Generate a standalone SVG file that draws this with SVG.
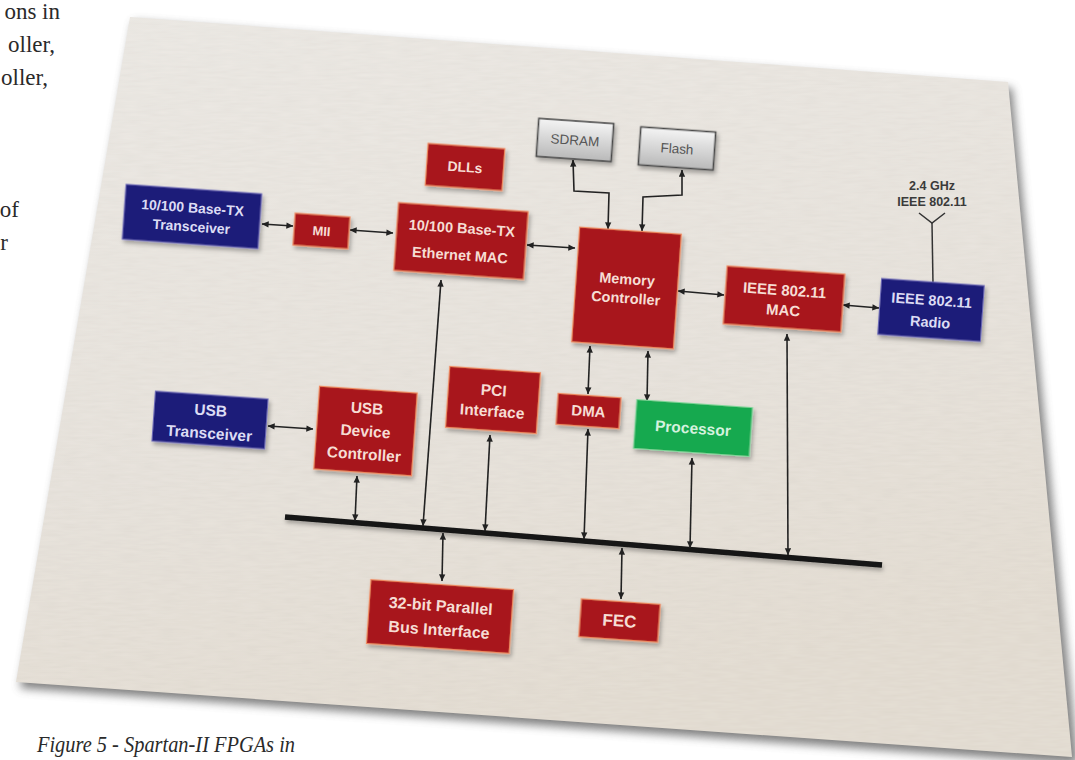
<svg xmlns="http://www.w3.org/2000/svg" width="1075" height="760" viewBox="0 0 1075 760">
<defs>
<linearGradient id="paperG" x1="0" y1="0" x2="0.3" y2="1">
<stop offset="0" stop-color="#edeae5"/>
<stop offset="0.6" stop-color="#e8e3dc"/>
<stop offset="1" stop-color="#e4ddd2"/>
</linearGradient>
<linearGradient id="grayG" x1="0" y1="0" x2="0" y2="1">
<stop offset="0" stop-color="#f4f4f4"/>
<stop offset="1" stop-color="#b9b9b9"/>
</linearGradient>
<filter id="paperShadow" x="-10%" y="-10%" width="120%" height="120%">
<feGaussianBlur stdDeviation="5"/>
</filter>
<filter id="tex" x="0" y="0" width="100%" height="100%">
<feTurbulence type="fractalNoise" baseFrequency="0.05 0.35" numOctaves="2" seed="4" result="n"/>
<feColorMatrix in="n" type="matrix" values="0.5 0 0 0 0.40  0.5 0 0 0 0.38  0.5 0 0 0 0.35  0 0 0 0 0.10" result="m"/>
<feComposite in="m" in2="SourceGraphic" operator="in"/>
</filter>
<filter id="ds" x="-20%" y="-20%" width="150%" height="150%">
<feDropShadow dx="2" dy="3" stdDeviation="2" flood-color="#000" flood-opacity="0.3"/>
</filter>
<filter id="busS" x="-5%" y="-100%" width="110%" height="400%">
<feDropShadow dx="1" dy="3" stdDeviation="2" flood-color="#000" flood-opacity="0.3"/>
</filter>
<marker id="ah" viewBox="0 0 10 10" refX="9.5" refY="5" markerWidth="8" markerHeight="7" markerUnits="userSpaceOnUse" orient="auto-start-reverse">
<path d="M0,0.5 L10,5 L0,9.5 z" fill="#222"/>
</marker>
<style>
.body{font-family:"Liberation Serif","Times New Roman",serif;font-size:23px;fill:#2a2a2a}
.cap{font-family:"Liberation Serif","Times New Roman",serif;font-style:italic;font-size:23px;fill:#2a2a2a}
.red{fill:#a8161c;stroke:#ef8a62;stroke-width:1.2;filter:url(#ds)}
.navy{fill:#1f1b79;stroke:#6d6bb8;stroke-width:1;filter:url(#ds)}
.green{fill:#19a950;stroke:#7fd69a;stroke-width:1;filter:url(#ds)}
.gray{fill:url(#grayG);stroke:#4a4a4a;stroke-width:1.6;filter:url(#ds)}
.lbl{font-family:"Liberation Sans",Arial,sans-serif;font-weight:bold;text-anchor:middle;fill:#f6ddd4}
.lbln{font-family:"Liberation Sans",Arial,sans-serif;font-weight:bold;text-anchor:middle;fill:#dcdcf4}
.lblg{font-family:"Liberation Sans",Arial,sans-serif;font-weight:bold;text-anchor:middle;fill:#d4f2de}
.lblm{font-family:"Liberation Sans",Arial,sans-serif;text-anchor:middle;fill:#555}
.ant{font-family:"Liberation Sans",Arial,sans-serif;font-weight:bold;text-anchor:middle;fill:#3a3a3a;font-size:12.5px}
.c{stroke:#222;stroke-width:1.6;fill:none;marker-start:url(#ah);marker-end:url(#ah)}
</style>
</defs>
<rect width="1075" height="760" fill="#ffffff"/>
<!-- surrounding page text -->
<text class="body" x="60" y="19" text-anchor="end">ons in</text>
<text class="body" x="55" y="52" text-anchor="end">oller,</text>
<text class="body" x="48" y="85" text-anchor="end">oller,</text>
<text class="body" x="19" y="217" text-anchor="end">of</text>
<text class="body" x="8" y="250" text-anchor="end">r</text>
<text class="cap" x="37" y="752" textLength="258" lengthAdjust="spacingAndGlyphs">Figure 5 - Spartan-II FPGAs in</text>
<!-- paper -->
<polygon points="134,22 1012,88 1078,764 20,688" fill="#555" opacity="0.75" filter="url(#paperShadow)"/>
<polygon points="130,17 1008,82 1072,757 16,682" fill="url(#paperG)"/>
<polygon points="130,17 1008,82 1072,757 16,682" fill="#fff" filter="url(#tex)"/>
<!-- connectors -->
<g id="connectors">
<line x1="285" y1="517" x2="882" y2="565" stroke="#141414" stroke-width="5.5" filter="url(#busS)"/>
<line class="c" x1="262" y1="224" x2="293" y2="226"/>
<line class="c" x1="350" y1="230" x2="393" y2="233"/>
<line class="c" x1="527" y1="245" x2="575" y2="248"/>
<line class="c" x1="678" y1="291" x2="724" y2="295"/>
<line class="c" x1="843" y1="305" x2="879" y2="308"/>
<line class="c" x1="268" y1="426" x2="313" y2="429"/>
<polyline class="c" points="573,160 574,191 609,193 608,229"/>
<polyline class="c" points="682,170 682,195 643,197 642,231"/>
<line class="c" x1="590" y1="346" x2="588" y2="394"/>
<line class="c" x1="648" y1="351" x2="647" y2="401"/>
<line class="c" x1="357" y1="476" x2="355" y2="521"/>
<line class="c" x1="441" y1="280" x2="423" y2="526"/>
<line class="c" x1="490" y1="435" x2="485" y2="531"/>
<line class="c" x1="588" y1="429" x2="584" y2="539"/>
<line class="c" x1="692" y1="458" x2="690" y2="548"/>
<line class="c" x1="787" y1="334" x2="788" y2="555"/>
<line class="c" x1="443" y1="533" x2="442" y2="581"/>
<line class="c" x1="622" y1="548" x2="621" y2="599"/>
</g>
<!-- antenna -->
<g id="antenna">
<text class="ant" x="932" y="190">2.4 GHz</text>
<text class="ant" x="932" y="206">IEEE 802.11</text>
<polyline points="919,213 932,223 945,213" fill="none" stroke="#333" stroke-width="1.5"/>
<line x1="932" y1="223" x2="933" y2="284" stroke="#333" stroke-width="1.5"/>
</g>
<!-- nodes -->
<g id="n-eth-transceiver" transform="rotate(4 192 216.5)">
<rect class="navy" x="124" y="189" width="136" height="55"/>
<text class="lbln" x="192" y="212.5" font-size="14">10/100 Base-TX</text>
<text class="lbln" x="192" y="231.5" font-size="14">Transceiver</text>
</g>
<g id="n-mii" transform="rotate(4 321.5 231)">
<rect class="red" x="294" y="215" width="55" height="32"/>
<text class="lbl" x="321.5" y="235.7" font-size="13">MII</text>
</g>
<g id="n-eth-mac" transform="rotate(4 461 241)">
<rect class="red" x="396" y="207" width="130" height="68"/>
<text class="lbl" x="461" y="233.2" font-size="14.5">10/100 Base-TX</text>
<text class="lbl" x="461" y="260.2" font-size="14.5">Ethernet MAC</text>
</g>
<g id="n-dlls" transform="rotate(4 465 167)">
<rect class="red" x="426.5" y="146" width="77" height="42"/>
<text class="lbl" x="465" y="172" font-size="14">DLLs</text>
</g>
<g id="n-sdram" transform="rotate(4 575 140)">
<rect class="gray" x="537.5" y="121" width="75" height="38"/>
<text class="lblm" x="575" y="144.9" font-size="13.5">SDRAM</text>
</g>
<g id="n-flash" transform="rotate(4 677 148.5)">
<rect class="gray" x="639.5" y="129.5" width="75" height="38"/>
<text class="lblm" x="677" y="153.4" font-size="13.5">Flash</text>
</g>
<g id="n-memctrl" transform="rotate(4 626.5 288)">
<rect class="red" x="575.5" y="230.5" width="102" height="115"/>
<text class="lbl" x="626.5" y="284.2" font-size="14.5">Memory</text>
<text class="lbl" x="626.5" y="303.2" font-size="14.5">Controller</text>
</g>
<g id="n-ieee-mac" transform="rotate(4 784 299)">
<rect class="red" x="725" y="270" width="118" height="58"/>
<text class="lbl" x="784" y="295.4" font-size="15">IEEE 802.11</text>
<text class="lbl" x="784" y="315.4" font-size="15">MAC</text>
</g>
<g id="n-radio" transform="rotate(4 931 310)">
<rect class="navy" x="879.5" y="282" width="103" height="56"/>
<text class="lbln" x="931" y="305.2" font-size="14.5">IEEE 802.11</text>
<text class="lbln" x="931" y="327.2" font-size="14.5">Radio</text>
</g>
<g id="n-usb-transceiver" transform="rotate(4 210 420)">
<rect class="navy" x="153.5" y="395" width="113" height="50"/>
<text class="lbln" x="210" y="415.6" font-size="15.5">USB</text>
<text class="lbln" x="210" y="438.6" font-size="15.5">Transceiver</text>
</g>
<g id="n-usb-dc" transform="rotate(4 365.5 431)">
<rect class="red" x="316.5" y="389.5" width="98" height="83"/>
<text class="lbl" x="365.5" y="413.6" font-size="15.5">USB</text>
<text class="lbl" x="365.5" y="436.6" font-size="15.5">Device</text>
<text class="lbl" x="365.5" y="459.6" font-size="15.5">Controller</text>
</g>
<g id="n-pci" transform="rotate(4 493 400)">
<rect class="red" x="447.5" y="369.5" width="91" height="61"/>
<text class="lbl" x="493" y="395.6" font-size="15.5">PCI</text>
<text class="lbl" x="493" y="416.6" font-size="15.5">Interface</text>
</g>
<g id="n-dma" transform="rotate(4 588.5 411)">
<rect class="red" x="557" y="395.5" width="63" height="31"/>
<text class="lbl" x="588.5" y="416.4" font-size="15">DMA</text>
</g>
<g id="n-processor" transform="rotate(4 693 428)">
<rect class="green" x="635" y="403.5" width="116" height="49"/>
<text class="lblg" x="693" y="433.6" font-size="15.5">Processor</text>
</g>
<g id="n-bus32" transform="rotate(4 440 616.5)">
<rect class="red" x="368.5" y="584.5" width="143" height="64"/>
<text class="lbl" x="440" y="611.3" font-size="16">32-bit Parallel</text>
<text class="lbl" x="440" y="635.3" font-size="16">Bus Interface</text>
</g>
<g id="n-fec" transform="rotate(4 619.5 620.5)">
<rect class="red" x="580" y="601.5" width="79" height="38"/>
<text class="lbl" x="619.5" y="626.6" font-size="17">FEC</text>
</g>
</svg>
